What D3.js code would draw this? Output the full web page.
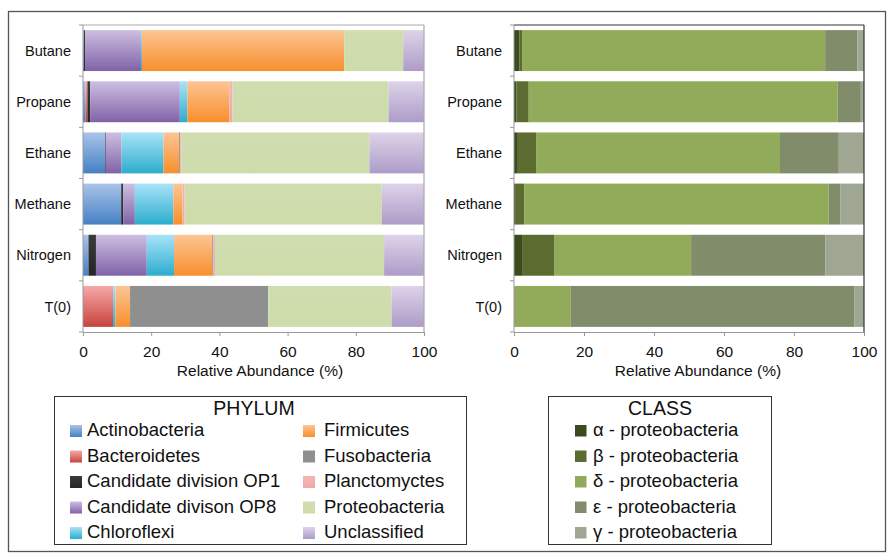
<!DOCTYPE html>
<html>
<head>
<meta charset="utf-8">
<script src="https://cdn.jsdelivr.net/npm/d3@7"></script>
<style>
  body { margin: 0; background: #fff; }
  svg { font-family: "Liberation Sans", Arial, sans-serif; }
</style>
</head>
<body>
<script>
// categories (top to bottom)
var samples = ["Butane", "Propane", "Ethane", "Methane", "Nitrogen", "T(0)"];

// phylum level, % per sample
var phyla = ["Actinobacteria", "Bacteroidetes", "Candidate division OP1", "Candidate divison OP8",
             "Chloroflexi", "Firmicutes", "Fusobacteria", "Planctomyctes", "Proteobacteria", "Unclassified"];
var actinobacteria = [0.3, 0.7, 6.5, 11.2, 1.6, 0];
var bacteroidetes  = [0, 0.6, 0, 0, 0, 8.8];
var op1            = [0.3, 0.8, 0.2, 0.6, 2.2, 0];
var op8            = [16.4, 26.3, 4.6, 3.4, 14.9, 0];
var chloroflexi    = [0.3, 2.2, 12.3, 11.3, 8.0, 0.7];
var firmicutes     = [59.3, 12.3, 4.6, 2.7, 11.2, 4.3];
var fusobacteria   = [0, 0, 0.3, 0, 0.3, 40.5];
var planctomyctes  = [0, 0.9, 0.4, 0.6, 0.5, 0];
var proteobacteria = [17.3, 45.8, 55.1, 57.8, 49.6, 36.2];
var unclassified   = [6.1, 10.4, 16.0, 12.4, 11.7, 9.5];

// class level (proteobacteria), % per sample
var classes = ["α - proteobacteria", "β - proteobacteria", "δ - proteobacteria", "ε - proteobacteria", "γ - proteobacteria"];
var alpha   = [1.5, 0.7, 1.1, 0.3, 2.3, 0];
var beta    = [0.8, 3.5, 5.2, 2.6, 9.3, 0];
var delta   = [86.6, 88.3, 69.7, 87.0, 39.0, 16.1];
var epsilon = [9.2, 6.6, 16.8, 3.4, 38.4, 81.1];
var gamma   = [1.9, 0.9, 7.2, 6.7, 11.0, 2.8];

var xTicks = [0, 20, 40, 60, 80, 100];

var phylumSeries = [actinobacteria, bacteroidetes, op1, op8, chloroflexi, firmicutes,
                    fusobacteria, planctomyctes, proteobacteria, unclassified];
var classSeries = [alpha, beta, delta, epsilon, gamma];

// colours: [top, bottom] of the vertical gradient
var phylumColors = [
    ["#a9c4e8", "#4580c4"],
    ["#f5a9a8", "#c8433e"],
    ["#3a3a3a", "#262626"],
    ["#cdbfe2", "#8062a6"],
    ["#a8e3f9", "#2cadcd"],
    ["#fcc594", "#f78f2c"],
    ["#8f8f8f", "#8f8f8f"],
    ["#f3b5b3", "#efaaa8"],
    ["#d0deaf", "#cedcac"],
    ["#ded3e9", "#ad9cc8"]
];
var classColors = ["#3b4b1d", "#5c6b30", "#92ab5a", "#808c6a", "#9fa692"];

var width = 892, height = 560;

var svg = d3.select("body").append("svg")
    .attr("width", width)
    .attr("height", height);

var defs = svg.append("defs");
phylumColors.forEach(function(c, i) {
    var g = defs.append("linearGradient")
        .attr("id", "grad" + i)
        .attr("x1", 0).attr("y1", 0).attr("x2", 0).attr("y2", 1);
    g.append("stop").attr("offset", "0%").attr("stop-color", c[0]);
    g.append("stop").attr("offset", "100%").attr("stop-color", c[1]);
});

// outer frame
svg.append("rect")
    .attr("x", 8.5).attr("y", 11.5)
    .attr("width", 877).attr("height", 540)
    .attr("fill", "none")
    .attr("stroke", "#555")
    .attr("stroke-width", 1.3);

function buildRows(keys, series) {
    return samples.map(function(s, i) {
        var row = { sample: s };
        keys.forEach(function(k, j) { row[k] = series[j][i]; });
        return row;
    });
}

function drawPanel(opts) {
    var x = d3.scaleLinear().domain([0, 100]).range([opts.left, opts.right]);
    var y = d3.scaleBand().domain(samples).range([25, 332])
        .paddingInner(0.2).paddingOuter(0.1);

    var rows = buildRows(opts.keys, opts.series);
    var stacked = d3.stack().keys(opts.keys)(rows);

    var g = svg.append("g");

    g.selectAll("g.layer")
        .data(stacked)
        .enter().append("g")
        .attr("class", "layer")
        .attr("fill", function(d, i) { return opts.fill(i); })
        .selectAll("rect")
        .data(function(d) { return d; })
        .enter().append("rect")
        .attr("x", function(d) { return x(d[0]); })
        .attr("y", function(d) { return y(d.data.sample); })
        .attr("width", function(d) { return Math.max(0, x(d[1]) - x(d[0])); })
        .attr("height", y.bandwidth());

    // frame: top and right
    g.append("line")
        .attr("x1", opts.left).attr("x2", opts.right)
        .attr("y1", 25).attr("y2", 25)
        .attr("stroke", opts.frame).attr("stroke-width", 1);
    g.append("line")
        .attr("x1", opts.right).attr("x2", opts.right)
        .attr("y1", 25).attr("y2", 332)
        .attr("stroke", opts.frame).attr("stroke-width", 1.2);

    // y axis line with ticks between the bands
    g.append("line")
        .attr("x1", opts.left).attr("x2", opts.left)
        .attr("y1", 25).attr("y2", 332)
        .attr("stroke", "#999");
    var edges = samples.map(function(s) { return y(s) - y.step() * y.paddingInner() / 2; });
    edges.push(332);
    edges[0] = 25;
    g.selectAll("line.ytick")
        .data(edges)
        .enter().append("line")
        .attr("class", "ytick")
        .attr("x1", opts.left - 4).attr("x2", opts.left)
        .attr("y1", function(d) { return d; }).attr("y2", function(d) { return d; })
        .attr("stroke", "#999");

    g.selectAll("text.cat")
        .data(samples)
        .enter().append("text")
        .attr("class", "cat")
        .attr("x", opts.left - 12)
        .attr("y", function(d) { return y(d) + y.bandwidth() / 2; })
        .attr("dy", "0.36em")
        .attr("text-anchor", "end")
        .attr("font-size", "14.5px")
        .attr("fill", "#111")
        .text(function(d) { return d; });

    // x axis
    var xAxis = g.append("g")
        .attr("transform", "translate(0,332)")
        .call(d3.axisBottom(x).tickValues(xTicks).tickSize(4).tickPadding(10).tickSizeOuter(0));
    xAxis.select(".domain").attr("stroke", "#999");
    xAxis.selectAll(".tick line").attr("stroke", "#999");
    xAxis.selectAll(".tick text")
        .attr("font-size", "15.5px")
        .attr("font-family", "Liberation Sans, Arial, sans-serif")
        .attr("fill", "#111");

    g.append("text")
        .attr("x", opts.titleX)
        .attr("y", 376)
        .attr("text-anchor", "middle")
        .attr("font-size", "15.5px")
        .attr("fill", "#111")
        .text("Relative Abundance (%)");
}

drawPanel({
    keys: phyla,
    series: phylumSeries,
    left: 83, right: 424,
    fill: function(i) { return "url(#grad" + i + ")"; },
    frame: "#aaa",
    titleX: 260
});

drawPanel({
    keys: classes,
    series: classSeries,
    left: 514, right: 864,
    fill: function(i) { return classColors[i]; },
    frame: "#333",
    titleX: 698
});

// legends
var rowY = function(i) { return 436 + i * 25.5; };

function drawLegend(box, title, titleX, items) {
    svg.append("rect")
        .attr("x", box.x + 0.5).attr("y", box.y + 0.5)
        .attr("width", box.w).attr("height", box.h)
        .attr("fill", "#fff")
        .attr("stroke", "#333")
        .attr("stroke-width", 1);
    svg.append("text")
        .attr("x", titleX).attr("y", 415)
        .attr("text-anchor", "middle")
        .attr("font-size", "19.5px")
        .attr("fill", "#111")
        .text(title);
    var it = svg.selectAll(null)
        .data(items)
        .enter().append("g");
    it.append("rect")
        .attr("x", function(d) { return d.sx; })
        .attr("y", function(d) { return rowY(d.row) - 11; })
        .attr("width", function(d) { return d.size; })
        .attr("height", function(d) { return d.size; })
        .attr("fill", function(d) { return d.fill; });
    it.append("text")
        .attr("x", function(d) { return d.tx; })
        .attr("y", function(d) { return rowY(d.row); })
        .attr("font-size", "18.5px")
        .attr("fill", "#111")
        .text(function(d) { return d.label; });
}

drawLegend({ x: 54, y: 396, w: 412, h: 148 }, "PHYLUM", 254,
    phyla.map(function(p, i) {
        var col = i < 5 ? 0 : 1;
        return {
            label: p,
            row: i % 5,
            sx: col ? 303 : 70,
            tx: col ? 324 : 87,
            size: 12,
            fill: "url(#grad" + i + ")"
        };
    }));

drawLegend({ x: 548, y: 396, w: 223, h: 148 }, "CLASS", 660,
    classes.map(function(c, i) {
        return {
            label: c,
            row: i,
            sx: 575,
            tx: 593,
            size: 11.5,
            fill: classColors[i]
        };
    }));
</script>
</body>
</html>
